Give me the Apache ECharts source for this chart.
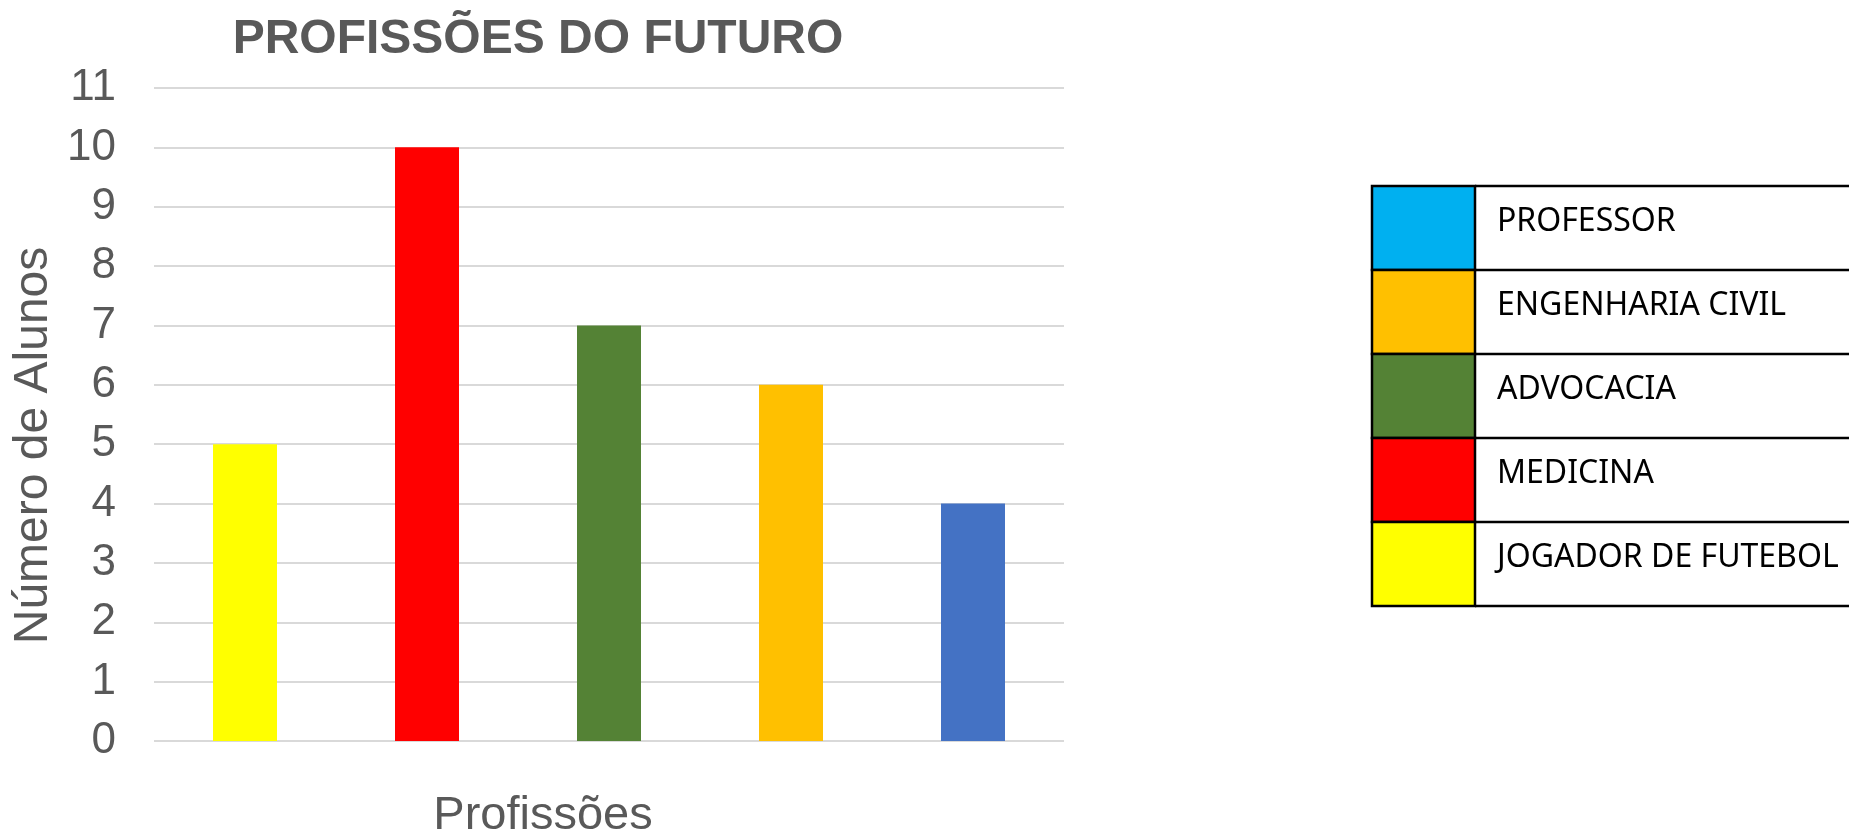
<!DOCTYPE html>
<html>
<head>
<meta charset="utf-8">
<style>
	html, body{
		margin: 0;
		padding: 0;
		background: #fff;
	}
	#chart{
		width: 1849px;
		height: 831px;
	}
</style>
<script src="https://cdn.jsdelivr.net/npm/echarts@6/dist/echarts.min.js"></script>
</head>
<body>
<div id="chart"></div>
<script>
// bars, left to right
var categories = ['JOGADOR DE FUTEBOL', 'MEDICINA', 'ADVOCACIA', 'ENGENHARIA CIVIL', 'PROFESSOR'];
var values = [5, 10, 7, 6, 4];
var barColors = ['#FFFF00', '#FF0000', '#548235', '#FFC000', '#4472C4'];

// legend table, top to bottom
var legendNames = ['PROFESSOR', 'ENGENHARIA CIVIL', 'ADVOCACIA', 'MEDICINA', 'JOGADOR DE FUTEBOL'];
var legendColors = ['#00B0F0', '#FFC000', '#548235', '#FF0000', '#FFFF00'];

var yTicks = [0, 11, 1]; // min, max, interval

var chart = echarts.init(document.getElementById('chart'));

var tableLeft = 1372, tableTop = 186, rowH = 84, swatchW = 103, tableRight = 1870;
var tableGraphics = [];
legendNames.forEach(function(name, i){
	var y = tableTop + i * rowH;
	tableGraphics.push({
		type: 'rect',
		shape: {x: tableLeft, y: y, width: swatchW, height: rowH},
		style: {fill: legendColors[i], stroke: '#000', lineWidth: 2.5}
	});
	tableGraphics.push({
		type: 'line',
		shape: {x1: tableLeft + swatchW, y1: y, x2: tableRight, y2: y},
		style: {stroke: '#000', lineWidth: 2.5}
	});
	tableGraphics.push({
		type: 'text',
		x: tableLeft + swatchW + 22,
		y: y + 36,
		style: {
			text: name,
			fill: '#000',
			font: '32px "Noto Sans"',
			verticalAlign: 'middle'
		}
	});
});
tableGraphics.push({
	type: 'line',
	shape: {x1: tableLeft + swatchW, y1: tableTop + legendNames.length * rowH, x2: tableRight, y2: tableTop + legendNames.length * rowH},
	style: {stroke: '#000', lineWidth: 2.5}
});

var option = {
	animation: false,
	title: {
		text: 'PROFISSÕES DO FUTURO',
		left: 533,
		top: 11,
		textAlign: 'center',
		textStyle: {
			fontFamily: 'Liberation Sans',
			fontSize: 48,
			fontWeight: 'bold',
			color: '#595959'
		}
	},
	grid: {
		left: 154,
		right: 785,
		top: 88,
		bottom: 90,
		outerBoundsMode: 'none'
	},
	xAxis: {
		type: 'category',
		data: categories,
		name: 'Profissões',
		nameLocation: 'middle',
		nameGap: 52,
		nameTextStyle: {
			fontFamily: 'Liberation Sans',
			fontSize: 47,
			color: '#595959',
			padding: [0, 132, 0, 0]
		},
		axisLine: {show: false},
		axisTick: {show: false},
		axisLabel: {show: false}
	},
	yAxis: {
		type: 'value',
		min: yTicks[0],
		max: yTicks[1],
		interval: yTicks[2],
		name: 'Número de Alunos',
		nameLocation: 'middle',
		nameGap: 96,
		nameTextStyle: {
			fontFamily: 'Liberation Sans',
			fontSize: 48,
			color: '#595959',
			padding: [0, 62, 0, 0]
		},
		axisLabel: {
			margin: 38,
			fontFamily: 'Liberation Sans',
			fontSize: 44,
			color: '#595959'
		},
		splitLine: {
			lineStyle: {color: '#D9D9D9', width: 2}
		}
	},
	series: [{
		type: 'bar',
		barWidth: 64,
		data: values.map(function(v, i){
			return {value: v, itemStyle: {color: barColors[i]}};
		})
	}],
	graphic: tableGraphics
};

chart.setOption(option);
</script>
</body>
</html>
